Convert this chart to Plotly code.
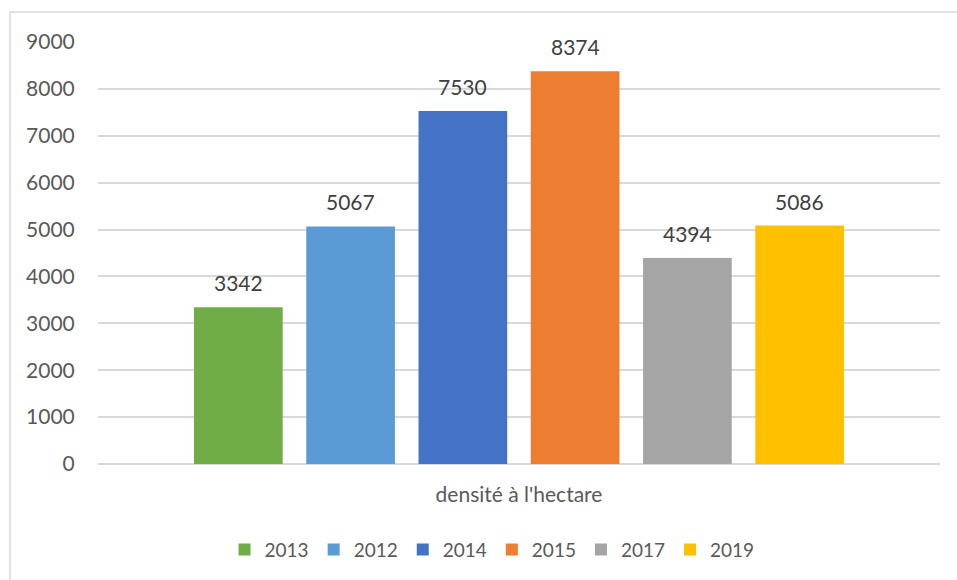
import plotly.graph_objects as go

category = ["densité à l'hectare"]
series_names = ["2013", "2012", "2014", "2015", "2017", "2019"]
series_values = [3342, 5067, 7530, 8374, 4394, 5086]
series_colors = ["#70AD47", "#5B9BD5", "#4472C4", "#ED7D31", "#A5A5A5", "#FFC000"]
y_ticks = [0, 1000, 2000, 3000, 4000, 5000, 6000, 7000, 8000, 9000]

FONT = "Lato, 'Open Sans', sans-serif"
TXT = "#595959"
LBL = "#404040"
FS = 21
BARGAP = 0.2

fig = go.Figure()
n = len(series_names)
slot = (1 - BARGAP) / n
annotations = []
for i, (name, val, col) in enumerate(zip(series_names, series_values, series_colors)):
    fig.add_trace(go.Bar(
        x=category, y=[val], name=name, marker_color=col, marker_line_width=0,
    ))
    # data label placed above each bar (bar center derived from the group layout)
    annotations.append(dict(
        x=-(1 - BARGAP) / 2 + slot * (i + 0.5), y=val, xref="x", yref="y",
        text=str(val), showarrow=False, yanchor="bottom", yshift=10,
        font=dict(family=FONT, size=FS, color=LBL),
    ))

fig.update_layout(
    width=957, height=580,
    margin=dict(l=98, r=17, t=42, b=115),
    paper_bgcolor="white", plot_bgcolor="white",
    barmode="group", bargap=BARGAP, bargroupgap=0.21,
    font=dict(family=FONT, size=FS, color=TXT),
    showlegend=True,
    legend=dict(orientation="h", x=0.468, xanchor="center", y=-0.2, yanchor="middle",
                font=dict(family=FONT, size=19, color=TXT),
                itemwidth=30, traceorder="normal"),
    xaxis=dict(showgrid=False, showline=False, ticks="outside", ticklen=12,
               tickcolor="rgba(0,0,0,0)", tickfont=dict(family=FONT, size=FS, color=TXT)),
    yaxis=dict(range=[0, 9000], tickvals=y_ticks, showgrid=True, gridcolor="#D9D9D9",
               gridwidth=1.5, zeroline=True, zerolinecolor="#D9D9D9", zerolinewidth=1.5,
               showline=False, ticks="outside", ticklen=18, tickcolor="rgba(0,0,0,0)",
               tickfont=dict(family=FONT, size=FS, color=TXT)),
    annotations=annotations,
    shapes=[dict(type="rect", xref="paper", yref="paper", x0=-0.1045, x1=1.2, y0=-0.5, y1=1.071,
                 line=dict(color="#D9D9D9", width=1.5), fillcolor="rgba(0,0,0,0)", layer="below")],
)

fig.write_html("out.html", config={"displayModeBar": False})

# remove the default page margin so the figure sits at the window origin
with open("out.html", "r", encoding="utf-8") as f:
    html = f.read()
html = html.replace("<body>", '<body style="margin:0;padding:0;">', 1)
with open("out.html", "w", encoding="utf-8") as f:
    f.write(html)
